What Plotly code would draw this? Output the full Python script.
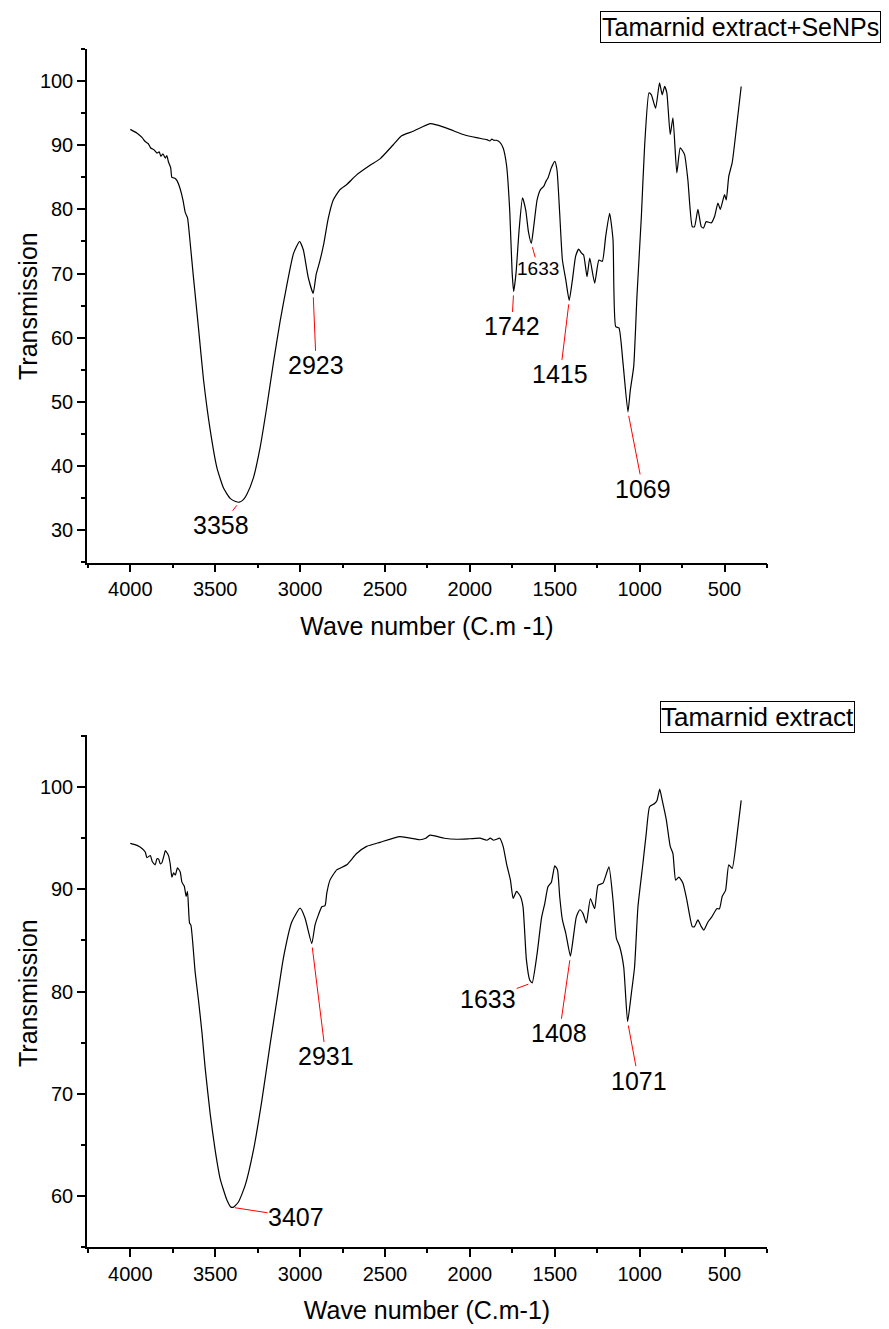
import plotly.graph_objects as go

# ---------------- data ----------------
# Tamarind extract + SeNPs (top panel)
wn_senp = [4000, 3960, 3930, 3912, 3895, 3880, 3860, 3843, 3830, 3820, 3808, 3794, 3785, 3775,
           3762, 3755, 3740, 3725, 3706, 3690, 3676, 3663, 3647, 3628, 3598, 3569, 3529, 3490,
           3451, 3412, 3380, 3358, 3334, 3314, 3275, 3235, 3196, 3157, 3118, 3078, 3039, 3003,
           2981, 2952, 2923, 2905, 2885, 2860, 2835, 2804, 2765, 2725, 2667, 2588, 2529, 2451,
           2402, 2334, 2235, 2196, 2118, 2039, 1961, 1900, 1882, 1870, 1860, 1843, 1824, 1804,
           1784, 1765, 1751, 1742, 1728, 1710, 1690, 1671, 1655, 1638, 1624, 1604, 1584, 1565,
           1550, 1540, 1520, 1500, 1487, 1471, 1455, 1435, 1415, 1396, 1377, 1359, 1343, 1330,
           1310, 1294, 1265, 1240, 1220, 1200, 1177, 1157, 1141, 1122, 1098, 1069, 1055, 1035,
           1016, 990, 971, 945, 931, 906, 883, 867, 853, 840, 820, 804, 781, 761, 736, 716, 690,
           677, 657, 637, 624, 608, 578, 559, 539, 525, 500, 490, 475, 455, 431, 402]
t_senp = [92.5, 91.9, 91.2, 90.6, 90.3, 89.6, 89.3, 88.8, 89.0, 88.3, 88.7, 88.0, 88.4, 87.4,
          86.5, 85.0, 84.9, 84.5, 83.2, 81.5, 79.5, 78.7, 74.7, 69.4, 61.4, 53.5, 45.5, 39.7,
          36.5, 34.9, 34.4, 34.3, 34.7, 35.5, 38.1, 42.9, 49.2, 56.1, 62.5, 68.2, 73.1, 75.0,
          73.7, 69.4, 66.9, 69.9, 71.8, 74.7, 78.5, 81.5, 83.1, 83.9, 85.4, 86.9, 87.9, 90.1,
          91.5, 92.2, 93.4, 93.2, 92.5, 91.7, 91.2, 90.9, 90.7, 91.0, 90.8, 90.8, 90.5, 89.6,
          86.9, 79.7, 70.1, 67.2, 70.1, 76.8, 81.8, 79.9, 76.5, 74.7, 77.3, 81.5, 83.1, 83.6,
          84.5, 84.9, 86.5, 87.5, 86.2, 79.4, 72.1, 69.0, 65.8, 69.0, 72.7, 73.8, 73.2, 72.9,
          69.5, 72.4, 68.5, 72.1, 71.9, 75.8, 79.4, 75.3, 61.7, 61.5, 56.0, 48.4, 51.8, 55.5,
          66.4, 78.9, 89.8, 98.2, 97.9, 95.8, 99.75, 97.9, 99.2, 98.2, 91.7, 94.3, 85.7, 89.6,
          88.6, 84.6, 77.3, 77.3, 80.0, 77.3, 77.1, 78.1, 77.9, 78.9, 81.0, 80.0, 82.3, 81.5,
          85.2, 87.3, 92.5, 99.2]

# Tamarind extract (bottom panel)
wn_ext = [4000, 3960, 3931, 3912, 3902, 3882, 3870, 3853, 3843, 3833, 3824, 3814, 3800, 3794,
          3785, 3775, 3765, 3755, 3745, 3735, 3722, 3706, 3696, 3682, 3671, 3663, 3651, 3643,
          3618, 3598, 3578, 3559, 3529, 3500, 3471, 3431, 3407, 3392, 3363, 3324, 3275, 3225,
          3176, 3137, 3098, 3049, 3000, 2971, 2931, 2912, 2892, 2872, 2853, 2843, 2824, 2784,
          2725, 2667, 2608, 2529, 2412, 2294, 2260, 2235, 2150, 2078, 2000, 1941, 1900, 1880,
          1860, 1843, 1824, 1804, 1784, 1761, 1745, 1725, 1702, 1687, 1667, 1647, 1633, 1604,
          1578, 1559, 1540, 1520, 1500, 1484, 1471, 1455, 1435, 1408, 1393, 1373, 1353, 1334,
          1314, 1290, 1265, 1245, 1216, 1181, 1157, 1137, 1118, 1094, 1071, 1049, 1030, 1010,
          981, 961, 941, 912, 898, 882, 867, 843, 820, 804, 788, 769, 745, 722, 690, 677, 657,
          637, 622, 598, 575, 546, 530, 514, 494, 475, 455, 428, 402]
t_ext = [94.5, 94.3, 94.0, 93.65, 93.1, 93.3, 92.7, 92.4, 93.0, 92.95, 92.5, 92.6, 93.4, 93.8,
         93.6, 93.3, 92.5, 91.2, 91.6, 91.4, 92.1, 91.7, 90.7, 90.3, 89.3, 89.8, 86.7, 86.5,
         81.9, 79.1, 76.0, 72.5, 67.95, 64.45, 61.7, 59.6, 58.9, 58.9, 59.4, 61.0, 64.45, 69.35,
         74.9, 79.1, 83.3, 86.8, 88.15, 87.2, 84.7, 86.5, 87.5, 88.3, 88.4, 89.6, 90.9, 91.9,
         92.4, 93.5, 94.2, 94.6, 95.15, 94.85, 95.0, 95.3, 95.0, 94.9, 94.95, 95.0, 94.8, 95.0,
         94.8, 94.9, 95.0, 94.2, 92.5, 90.9, 89.1, 89.8, 89.3, 88.3, 83.1, 81.1, 80.85, 83.7,
         87.2, 88.6, 90.25, 90.7, 92.3, 91.9, 89.3, 87.0, 85.7, 83.45, 85.0, 87.3, 88.0, 87.65,
         86.7, 89.1, 88.1, 90.4, 90.6, 92.2, 88.95, 85.2, 84.4, 82.4, 77.05, 79.8, 82.4, 88.3,
         92.5, 95.5, 98.1, 98.4, 98.7, 99.8, 98.7, 96.8, 94.2, 93.5, 90.9, 91.2, 90.6, 88.95,
         86.35, 86.35, 87.0, 86.35, 86.0, 86.8, 87.3, 88.1, 88.1, 89.3, 89.9, 92.4, 92.05, 95.1,
         98.7]

# Peak labels
peaks_senp_wn = [3358, 2923, 1742, 1638, 1415, 1069]
peaks_senp_t = [34.3, 66.9, 67.2, 74.7, 65.8, 48.4]
peaks_senp_lbl = ["3358", "2923", "1742", "1633", "1415", "1069"]

peaks_ext_wn = [3407, 2931, 1633, 1408, 1071]
peaks_ext_t = [58.9, 84.7, 80.85, 83.45, 77.05]
peaks_ext_lbl = ["3407", "2931", "1633", "1408", "1071"]

x_ticks = [4000, 3500, 3000, 2500, 2000, 1500, 1000, 500]

# ---------------- style ----------------
FONT = "Arial, Liberation Sans, sans-serif"
PAGE_W, PAGE_H = 889, 1329
BODY = 8                      # default page margin around the plot div
W, H = PAGE_W - BODY, PAGE_H - BODY


def fx(px):   # page x -> paper fraction
    return (px - BODY) / W


def fy(py):   # page y -> paper fraction (from bottom)
    return (PAGE_H - py) / H


# label offsets (px) and font sizes for each peak label
off_senp = [(-18, 23, 25), (3, 72, 25), (-2, 35, 25), (7, 25, 19), (-9, 74, 25), (15, 77, 25)]
off_ext = [(65, 10, 25), (14, 113, 25), (-44, 16, 25), (-11, 77, 25), (11, 59, 25)]

LINE = dict(color="black", width=1.2, shape="spline", smoothing=0.5)

fig = go.Figure()
fig.add_trace(go.Scatter(x=wn_senp, y=t_senp, mode="lines", xaxis="x", yaxis="y",
                         line=LINE, showlegend=False, name="Tamarnid extract+SeNPs"))
fig.add_trace(go.Scatter(x=wn_ext, y=t_ext, mode="lines", xaxis="x2", yaxis="y2",
                         line=LINE, showlegend=False, name="Tamarnid extract"))


def xaxis_style(title, anchor):
    return dict(
        domain=[fx(87), fx(767)], anchor=anchor, range=[4255, 250],
        tickvals=x_ticks, ticks="outside", ticklen=8, tickwidth=1.5, tickcolor="black",
        showline=True, linecolor="black", linewidth=1.5, showgrid=False, zeroline=False,
        tickfont=dict(family=FONT, size=20, color="black"),
        minor=dict(dtick=250, tick0=0, ticks="outside", ticklen=4, tickwidth=1.5,
                   tickcolor="black", showgrid=False),
        title=dict(text=title, font=dict(family=FONT, size=25, color="black"), standoff=18),
    )


def yaxis_style(rng, dom, anchor):
    return dict(
        domain=dom, anchor=anchor, range=rng, dtick=10, tick0=0,
        ticks="outside", ticklen=8, tickwidth=1.5, tickcolor="black",
        showline=True, linecolor="black", linewidth=1.5, showgrid=False, zeroline=False,
        tickfont=dict(family=FONT, size=20, color="black"),
        minor=dict(dtick=5, tick0=0, ticks="outside", ticklen=4, tickwidth=1.5,
                   tickcolor="black", showgrid=False),
    )


annotations = []
for wn, t, lbl, (ax, ay, fs) in zip(peaks_senp_wn, peaks_senp_t, peaks_senp_lbl, off_senp):
    annotations.append(dict(x=wn, y=t, xref="x", yref="y", text=lbl, showarrow=True,
                            arrowhead=0, arrowwidth=1, arrowcolor="red", ax=ax, ay=ay,
                            standoff=4, font=dict(family=FONT, size=fs, color="black"),
                            borderpad=0))
for wn, t, lbl, (ax, ay, fs) in zip(peaks_ext_wn, peaks_ext_t, peaks_ext_lbl, off_ext):
    annotations.append(dict(x=wn, y=t, xref="x2", yref="y2", text=lbl, showarrow=True,
                            arrowhead=0, arrowwidth=1, arrowcolor="red", ax=ax, ay=ay,
                            standoff=4, font=dict(family=FONT, size=fs, color="black"),
                            borderpad=0))

# y-axis titles
for yc in (306, 993):
    annotations.append(dict(x=fx(28), y=fy(yc), xref="paper", yref="paper",
                            text="Transmission", textangle=-90, showarrow=False,
                            font=dict(family=FONT, size=25, color="black"),
                            xanchor="center", yanchor="middle"))

# legend-like text boxes
annotations.append(dict(x=fx(740), y=fy(27), xref="paper", yref="paper",
                        text="Tamarnid extract+SeNPs", showarrow=False,
                        font=dict(family=FONT, size=25, color="black"),
                        bordercolor="black", borderwidth=1, borderpad=1,
                        xanchor="center", yanchor="middle"))
annotations.append(dict(x=fx(757), y=fy(717.5), xref="paper", yref="paper",
                        text="Tamarnid extract", showarrow=False,
                        font=dict(family=FONT, size=26, color="black"),
                        bordercolor="black", borderwidth=1, borderpad=0,
                        xanchor="center", yanchor="middle"))

fig.update_layout(
    width=W, height=H,
    margin=dict(l=0, r=0, t=0, b=0),
    paper_bgcolor="white", plot_bgcolor="white",
    font=dict(family=FONT, color="black"),
    xaxis=xaxis_style("Wave number (C.m -1)", "y"),
    yaxis=yaxis_style([24.85, 105.05], [fy(562.7), fy(49)], "x"),
    xaxis2=xaxis_style("Wave number (C.m-1)", "y2"),
    yaxis2=yaxis_style([55.0, 105.1], [fy(1247), fy(735)], "x2"),
    annotations=annotations,
)

fig.write_html("out.html")
